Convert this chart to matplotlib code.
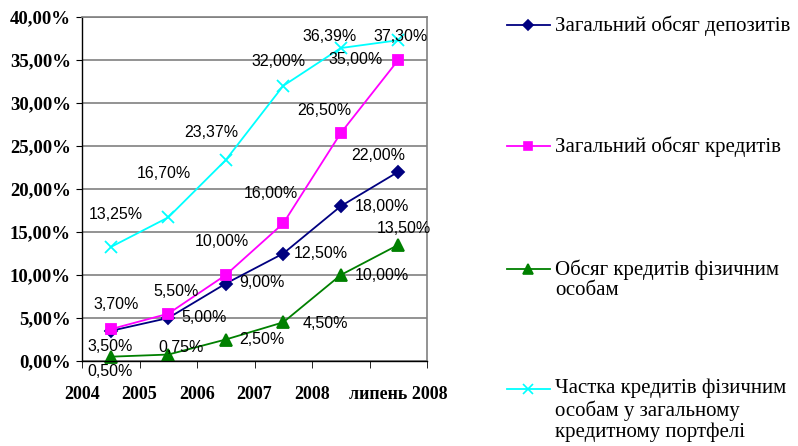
import matplotlib
matplotlib.use('Agg')
import matplotlib.pyplot as plt
from matplotlib.lines import Line2D

# data
periods = ['2004', '2005', '2006', '2007', '2008', 'липень 2008']
deposits = [3.50, 5.00, 9.00, 12.50, 18.00, 22.00]
credits = [3.70, 5.50, 10.00, 16.00, 26.50, 35.00]
indivCredits = [0.50, 0.75, 2.50, 4.50, 10.00, 13.50]
indivShare = [13.25, 16.70, 23.37, 32.00, 36.39, 37.30]

seriesNames = ['Загальний обсяг депозитів',
               'Загальний обсяг кредитів',
               'Обсяг кредитів фізичним\nособам',
               'Частка кредитів фізичним\nособам у загальному\nкредитному портфелі']

# label offsets in pixels (dx, dy)
depOffsets = [(-1, -16), (36, 0), (36, 1), (38, 0), (41, 0), (-20, 16)]
credOffsets = [(5, 25), (8, 22), (-4, 33), (-12, 30), (-16, 23), (-43, 0)]
indOffsets = [(-1, -15), (13, 7), (36, 0), (42, -1), (41, -1), (6, 16)]
shareOffsets = [(5, 33), (-4, 44), (-14, 28), (-5, 24), (-11, 12), (2, 4)]

colors = ['#000080', '#FF00FF', '#008000', '#00FFFF']
markers = ['D', 's', '^', 'x']
msizes = [6.5, 7, 8, 8]
legendMsizes = [5.5, 6, 6.5, 7]

fig = plt.figure(figsize=(7.98, 4.46), dpi=100)
ax = fig.add_axes([82/798, 1-361/446, (427-82)/798, (361-17)/446])

xs = [i + 0.5 for i in range(len(periods))]
allSeries = [deposits, credits, indivCredits, indivShare]
allOffsets = [depOffsets, credOffsets, indOffsets, shareOffsets]

for vals, c, m, ms in zip(allSeries, colors, markers, msizes):
    ax.plot(xs, vals, color=c, marker=m, markersize=ms, markeredgewidth=1.3,
            linewidth=1.3, clip_on=False)

def fmt(v):
    return ('%.2f%%' % v).replace('.', ',')

for vals, offs in zip(allSeries, allOffsets):
    for x, v, (dx, dy) in zip(xs, vals, offs):
        ax.annotate(fmt(v), (x, v), xytext=(dx, dy), textcoords='offset pixels',
                    ha='center', va='center', fontsize=11.5,
                    family='Liberation Sans', color='black')

ax.set_xlim(0, 6)
ax.set_ylim(0, 40)
ax.set_yticks(range(0, 41, 5))
ax.set_yticklabels([fmt(v) for v in range(0, 41, 5)], family='Liberation Serif',
                   fontweight='bold', fontsize=13.5)
ax.yaxis.grid(True, color='#808080', linewidth=1.2)
ax.set_axisbelow(True)

# labels on major ticks, boundary marks on minor ticks
ax.xaxis.remove_overlapping_locs = False
ax.set_xticks([0, 1, 2, 3, 4, 5.5])
ax.set_xticklabels(periods, family='Liberation Serif', fontweight='bold', fontsize=13)
ax.set_xticks(range(7), minor=True)
ax.tick_params(axis='x', which='major', length=0, pad=18)
ax.tick_params(axis='x', which='minor', length=5, direction='out', color='black')
ax.tick_params(axis='y', length=4, direction='out', color='black', pad=4)

for side in ['top', 'right']:
    ax.spines[side].set_color('#808080')
    ax.spines[side].set_linewidth(1.2)
for side in ['left', 'bottom']:
    ax.spines[side].set_color('black')
    ax.spines[side].set_linewidth(1.0)

# manual legend, handle aligned with first text line
legendY = [25, 146, 269, 389]
for name, c, m, ms, y in zip(seriesNames, colors, markers, legendMsizes, legendY):
    fy = 1 - y/446
    line = Line2D([507/798, 528/798, 550/798], [fy, fy, fy], transform=fig.transFigure,
                  color=c, marker=m, markersize=ms, markeredgewidth=1.2,
                  linewidth=1.3, markevery=[1])
    fig.add_artist(line)
    fig.text(555/798, fy + 10/446, name, ha='left', va='top', family='Liberation Serif',
             fontsize=15, linespacing=1.1)

fig.savefig('out.png', dpi=100)
